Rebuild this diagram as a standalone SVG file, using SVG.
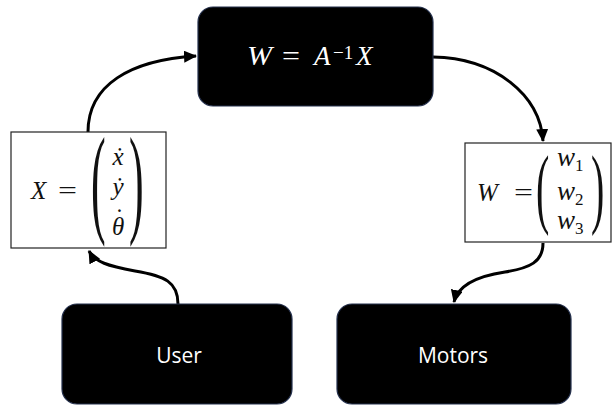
<svg xmlns="http://www.w3.org/2000/svg" width="613" height="405" viewBox="0 0 613 405">
  <style>
    .dark { fill: #000; stroke: #24304d; stroke-width: 1.2; }
    .plain { fill: #fff; stroke: #222; stroke-width: 1.2; }
    .math { font-family: "Liberation Serif", "DejaVu Serif", serif; font-style: italic; }
    .up { font-family: "Liberation Serif", "DejaVu Serif", serif; font-style: normal; }
    .ink { fill: #111; }
    .label { font-family: "Open Sans", "Noto Sans", sans-serif; font-size: 21px; fill: #fff; text-anchor: middle; }
    .wire { fill: none; stroke: #000; stroke-width: 3; marker-end: url(#head); }
  </style>
  <defs>
    <marker id="head" markerUnits="userSpaceOnUse" markerWidth="14" markerHeight="12" refX="12" refY="6" orient="auto">
      <path d="M0,0 L13,6 L0,12 Z" fill="#000"/>
    </marker>
  </defs>

  <g id="connectors">
    <path class="wire" d="M88,132 C88,85 130,60 196,56"/>
    <path class="wire" d="M433,57 C495,58 540,95 543,141"/>
    <path class="wire" d="M178,304 C178,282 165,276 135,271 C108,266 95,262 89,251"/>
    <path class="wire" d="M543,243 C543,262 530,268 505,272 C478,276 458,285 454,302"/>
  </g>

  <g id="inverse">
    <rect class="dark" x="198" y="7" width="235" height="99" rx="15"/>
    <g fill="#fff">
      <text class="math" x="247" y="65" font-size="27" textLength="25" lengthAdjust="spacingAndGlyphs">W</text>
      <text class="up" x="282" y="65" font-size="27" textLength="18" lengthAdjust="spacingAndGlyphs">=</text>
      <text class="math" x="314" y="65" font-size="27">A</text>
      <text class="up" x="333" y="59" font-size="19">−1</text>
      <text class="math" x="356" y="65" font-size="27">X</text>
    </g>
  </g>

  <g id="velocity">
    <rect class="plain" x="11" y="132" width="155" height="116"/>
    <text class="math ink" x="31" y="199" font-size="25">X</text>
    <text class="up ink" x="58" y="199" font-size="25" textLength="19" lengthAdjust="spacingAndGlyphs">=</text>
    <text class="up ink" font-size="44" transform="translate(91,221) scale(1,2.73)">(</text>
    <text class="up ink" font-size="44" transform="translate(129,221) scale(1,2.73)">)</text>
    <text class="math ink" x="118" y="165" font-size="25" text-anchor="middle">ẋ</text>
    <text class="math ink" x="118" y="195" font-size="25" text-anchor="middle">ẏ</text>
    <text class="math ink" x="112" y="235" font-size="25">θ<tspan class="up" dx="-9" dy="-9">˙</tspan></text>
  </g>

  <g id="wheels">
    <rect class="plain" x="465" y="143" width="146" height="99"/>
    <text class="math ink" x="477" y="201" font-size="25">W</text>
    <text class="up ink" x="514" y="201" font-size="25" textLength="19" lengthAdjust="spacingAndGlyphs">=</text>
    <text class="up ink" font-size="40" transform="translate(536,217) scale(1,2.23)">(</text>
    <text class="up ink" font-size="40" transform="translate(591,217) scale(1,2.23)">)</text>
    <text class="math ink" x="557" y="166" font-size="27">w<tspan class="up" font-size="17" dy="5">1</tspan></text>
    <text class="math ink" x="557" y="200" font-size="27">w<tspan class="up" font-size="17" dy="5">2</tspan></text>
    <text class="math ink" x="557" y="229" font-size="27">w<tspan class="up" font-size="17" dy="5">3</tspan></text>
  </g>

  <g id="user">
    <rect class="dark" x="62" y="304" width="230" height="100" rx="15"/>
    <text class="label" x="179" y="363">User</text>
  </g>

  <g id="motors">
    <rect class="dark" x="337" y="304" width="234" height="100" rx="15"/>
    <text class="label" x="453" y="363">Motors</text>
  </g>
</svg>
